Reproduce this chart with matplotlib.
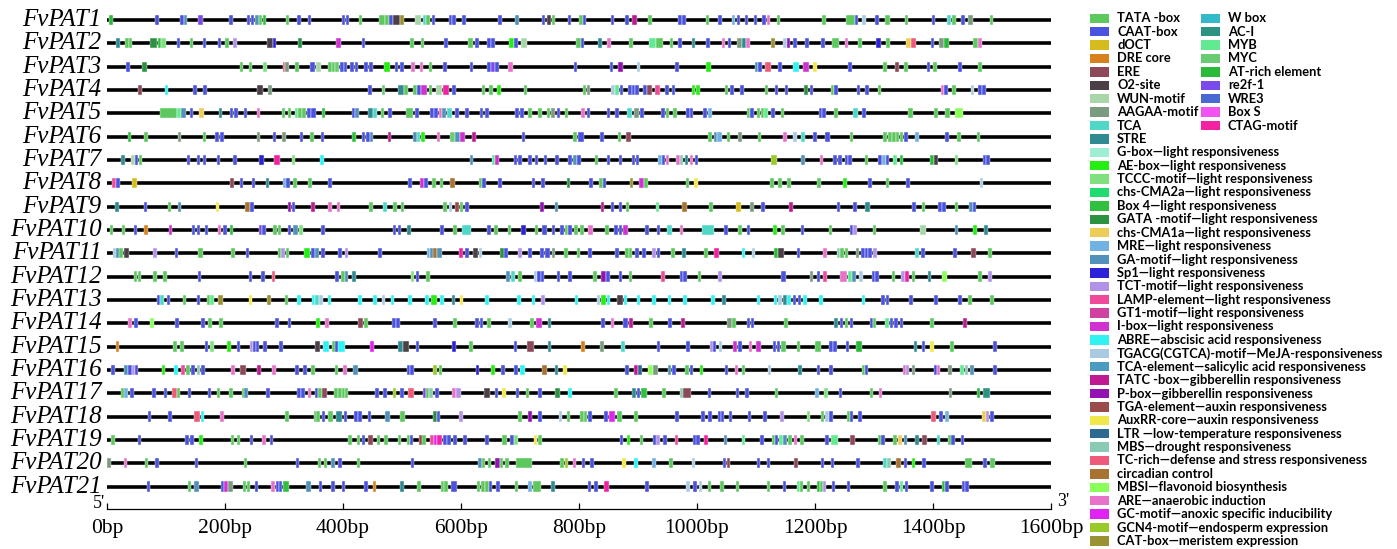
import matplotlib
matplotlib.use('Agg')
import matplotlib.pyplot as plt
from matplotlib.patches import Rectangle

genes = ['FvPAT%d' % i for i in range(1, 22)]
seq_len = 1600
xticks = [0, 200, 400, 600, 800, 1000, 1200, 1400, 1600]
xtick_labels = ['%dbp' % t for t in xticks]

# legend entries (key -> label), two columns
legend_left = ['TATA', 'CAAT', 'dOCT', 'DRE', 'ERE', 'O2', 'WUN', 'AAGAA', 'TCA', 'STRE',
               'Gbox', 'AE', 'TCCC', 'CMA2a', 'Box4', 'GATA', 'CMA1a', 'MRE', 'GA', 'Sp1',
               'TCT', 'LAMP', 'GT1', 'Ibox', 'ABRE', 'TGACG', 'TCAel', 'TATC', 'Pbox', 'TGA',
               'AuxRR', 'LTR', 'MBS', 'TCrich', 'circ', 'MBSI', 'ARE', 'GC', 'GCN4', 'CAT']
legend_right = ['Wbox', 'ACI', 'MYB', 'MYC', 'ATrich', 're2f', 'WRE3', 'BoxS', 'CTAG']

D = '\u2014'
element_labels = {
    'TATA': 'TATA -box', 'CAAT': 'CAAT-box', 'dOCT': 'dOCT', 'DRE': 'DRE core', 'ERE': 'ERE',
    'O2': 'O2-site', 'WUN': 'WUN-motif', 'AAGAA': 'AAGAA-motif', 'TCA': 'TCA', 'STRE': 'STRE',
    'Gbox': 'G-box' + D + 'light responsiveness',
    'AE': 'AE-box' + D + 'light responsiveness',
    'TCCC': 'TCCC-motif' + D + 'light responsiveness',
    'CMA2a': 'chs-CMA2a' + D + 'light responsiveness',
    'Box4': 'Box 4' + D + 'light responsiveness',
    'GATA': 'GATA -motif' + D + 'light responsiveness',
    'CMA1a': 'chs-CMA1a' + D + 'light responsiveness',
    'MRE': 'MRE' + D + 'light responsiveness',
    'GA': 'GA-motif' + D + 'light responsiveness',
    'Sp1': 'Sp1' + D + 'light responsiveness',
    'TCT': 'TCT-motif' + D + 'light responsiveness',
    'LAMP': 'LAMP-element' + D + 'light responsiveness',
    'GT1': 'GT1-motif' + D + 'light responsiveness',
    'Ibox': 'I-box' + D + 'light responsiveness',
    'ABRE': 'ABRE' + D + 'abscisic acid responsiveness',
    'TGACG': 'TGACG(CGTCA)-motif' + D + 'MeJA-responsiveness',
    'TCAel': 'TCA-element' + D + 'salicylic acid responsiveness',
    'TATC': 'TATC -box' + D + 'gibberellin responsiveness',
    'Pbox': 'P-box' + D + 'gibberellin responsiveness',
    'TGA': 'TGA-element' + D + 'auxin responsiveness',
    'AuxRR': 'AuxRR-core' + D + 'auxin responsiveness',
    'LTR': 'LTR ' + D + 'low-temperature responsiveness',
    'MBS': 'MBS' + D + 'drought responsiveness',
    'TCrich': 'TC-rich' + D + 'defense and stress responsiveness',
    'circ': 'circadian control',
    'MBSI': 'MBSI' + D + 'flavonoid biosynthesis',
    'ARE': 'ARE' + D + 'anaerobic induction',
    'GC': 'GC-motif' + D + 'anoxic specific inducibility',
    'GCN4': 'GCN4-motif' + D + 'endosperm expression',
    'CAT': 'CAT-box' + D + 'meristem expression',
    'Wbox': 'W box', 'ACI': 'AC-I', 'MYB': 'MYB', 'MYC': 'MYC', 'ATrich': 'AT-rich element',
    're2f': 're2f-1', 'WRE3': 'WRE3', 'BoxS': 'Box S', 'CTAG': 'CTAG-motif',
}

colors = {
    'TATA': '#5dc85d', 'CAAT': '#4a52e0', 'dOCT': '#d6bb1c', 'DRE': '#d8801e', 'ERE': '#8c4a58',
    'O2': '#4b4047', 'WUN': '#a9d6a9', 'AAGAA': '#7b9b80', 'TCA': '#4fd8c6', 'STRE': '#2f8a92',
    'Gbox': '#9eeed2', 'AE': '#24ee12', 'TCCC': '#80e080', 'CMA2a': '#20dc6e', 'Box4': '#30c040',
    'GATA': '#2b9242', 'CMA1a': '#edcc58', 'MRE': '#72b2e2', 'GA': '#5292ba', 'Sp1': '#2c22d8',
    'TCT': '#b292e8', 'LAMP': '#f04a9a', 'GT1': '#d042a2', 'Ibox': '#d032d2', 'ABRE': '#30f2f0',
    'TGACG': '#aacae2', 'TCAel': '#4a9ac2', 'TATC': '#c01a92', 'Pbox': '#9212b2', 'TGA': '#9a4c4a',
    'AuxRR': '#f0e84a', 'LTR': '#2c6a92', 'MBS': '#8acab2', 'TCrich': '#f05a7a', 'circ': '#a87232',
    'MBSI': '#8aff5a', 'ARE': '#e872ca', 'GC': '#e022f2', 'GCN4': '#9aca2a', 'CAT': '#9a9232',
    'Wbox': '#32bacb', 'ACI': '#2c9282', 'MYB': '#62ea92', 'MYC': '#6acc72', 'ATrich': '#2aba3a',
    're2f': '#7a4aea', 'WRE3': '#4a6ad2', 'BoxS': '#f252f2', 'CTAG': '#f222a2',
}

# element positions (bp, type[, length in bp])
pat1 = [(3,'ATrich',8),(82,'CAAT'),(124,'CAAT'),(130,'GA'),(155,'re2f',8),(207,'CAAT'),(237,'CAAT'),(244,'CAAT'),(251,'GA'),(257,'TATA'),(264,'Box4'),(303,'TATA'),(322,'CAAT'),(340,'CAAT'),(398,'CAAT'),(405,'CAAT'),(427,'TATA'),(461,'TATA',10),(472,'TATA'),(478,'CAAT'),(484,'O2',12),(496,'CAT',8),(522,'WUN',10),(535,'TCA'),(541,'TATA'),(550,'CAAT'),(579,'CAAT'),(585,'CAAT'),(602,'CAAT'),(663,'CAAT'),(692,'GA'),(737,'CAAT'),(745,'O2',8),(754,'TATA'),(781,'CAAT'),(800,'TATA'),(806,'CAAT'),(854,'CAAT'),(878,'CAAT'),(890,'TATC',8),(917,'TATA'),(968,'CAAT'),(975,'CAAT'),(1015,'TATA'),(1036,'CAAT'),(1059,'MRE'),(1067,'CAAT'),(1081,'CAAT'),(1096,'CAAT'),(1111,'CAAT'),(1118,'ARE'),(1135,'TATA'),(1212,'TATA'),(1253,'TATA',14),(1267,'CAAT'),(1280,'TGACG'),(1302,'CAAT'),(1319,'TATA',8),(1352,'TATA'),(1398,'CAAT'),(1423,'TCA',8),(1433,'TATA'),(1448,'CAAT'),(1460,'AAGAA',8),(1496,'TATA')]
pat2 = [(16,'STRE'),(31,'TATA'),(37,'TATA'),(73,'GATA',12),(86,'Box4'),(92,'TCCC',8),(118,'CAAT'),(140,'TATA'),(162,'CAAT'),(188,'CAAT'),(200,'TATA'),(214,'TCT'),(271,'O2',10),(281,'Sp1'),(324,'GATA'),(388,'Ibox',8),(432,'CAAT'),(514,'TATA'),(532,'TATA'),(572,'CAAT'),(612,'TATA',8),(624,'CAAT'),(644,'CAAT'),(651,'CAAT'),(681,'AE',8),(690,'CAAT'),(702,'WUN',10),(795,'TATA',8),(803,'CAAT'),(833,'STRE'),(848,'ARE'),(885,'TATA'),(918,'MYB',12),(931,'TATA',12),(954,'TATA'),(968,'CAAT'),(991,'STRE'),(1016,'CAAT'),(1042,'ARE'),(1052,'CAAT'),(1067,'AAGAA',10),(1077,'STRE'),(1083,'ARE'),(1126,'CAT'),(1146,'TGACG'),(1152,'Pbox'),(1163,'CAAT'),(1183,'CAAT'),(1211,'CAAT'),(1229,'TATA',12),(1250,'ARE'),(1273,'TATA'),(1304,'Sp1',8),(1321,'TATA'),(1354,'CMA1a',8),(1363,'TCrich',8),(1396,'CAAT'),(1410,'AAGAA',8),(1419,'ATrich',8),(1468,'TATA',8),(1477,'ARE')]
pat3 = [(33,'CAAT'),(59,'GATA',8),(225,'TATA'),(240,'TATA'),(265,'TCCC'),(298,'TCrich',4),(302,'AAGAA'),(319,'TATA'),(344,'CAAT',8),(354,'WUN',8),(375,'TATA'),(381,'TATA'),(387,'MYC'),(395,'CAAT'),(401,'CAAT'),(412,'CAAT'),(420,'CAAT'),(436,'CAAT'),(444,'CAAT'),(470,'AE',10),(488,'CAAT'),(497,'CAAT'),(516,'ARE'),(530,'ARE'),(545,'TATA'),(570,'CAAT'),(615,'CAAT'),(644,'CAAT'),(650,'re2f',8),(658,'CAAT'),(680,'ARE',8),(791,'CAAT'),(852,'CAAT'),(866,'Pbox',8),(898,'TGACG'),(963,'CAAT'),(1016,'AE',8),(1098,'GA'),(1104,'CAAT'),(1115,'TCrich',10),(1138,'CAAT'),(1163,'ABRE',10),(1180,'Ibox',10),(1197,'AuxRR'),(1256,'CAAT'),(1316,'TATA'),(1335,'ERE',8),(1351,'TATA'),(1389,'CAAT'),(1400,'TATA'),(1443,'CAAT'),(1477,'TATA')]
pat4 = [(53,'ERE'),(98,'ABRE'),(146,'CAAT'),(163,'CAAT'),(254,'O2',10),(273,'AAGAA'),(443,'CAAT'),(466,'MYC'),(494,'STRE',10),(504,'TATA'),(519,'TATA'),(526,'CAAT'),(533,'Ibox',10),(545,'TATA'),(558,'WUN',10),(570,'CTAG',10),(585,'CAAT'),(635,'TATA'),(648,'TATA'),(661,'AE'),(706,'TATA'),(806,'TATA'),(813,'AAGAA'),(855,'TGACG'),(861,'MYB'),(869,'CAAT'),(883,'CAAT'),(889,'CAAT'),(895,'CAAT'),(909,'CAAT'),(915,'ERE',8),(929,'LAMP',8),(946,'CAAT'),(957,'CAAT'),(991,'AE'),(999,'AE'),(1047,'TATA'),(1056,'CAAT'),(1073,'CAAT'),(1115,'TATA'),(1132,'CAAT'),(1149,'CAAT'),(1182,'GATA'),(1191,'CAAT'),(1227,'TATA'),(1233,'CAAT'),(1271,'CAAT'),(1285,'CAAT'),(1306,'TATA'),(1413,'ARE'),(1419,'CAAT'),(1433,'TATA'),(1464,'TGACG'),(1477,'CAAT'),(1483,'CAAT')]
pat5 = [(90,'TATA',28),(119,'MYB'),(126,'GA',8),(140,'CAAT'),(156,'CMA1a',8),(189,'STRE'),(208,'CAAT'),(216,'CAAT'),(232,'CAAT'),(254,'ARE'),(296,'TATA'),(306,'TATA'),(318,'MYB'),(324,'TATA'),(331,'TATA'),(339,'CAAT'),(346,'CAAT',8),(364,'Box4'),(415,'CAAT'),(421,'GA'),(443,'STRE',8),(451,'TCA'),(464,'TATA'),(477,'CAAT'),(506,'TATA',12),(522,'CAAT'),(548,'CAAT'),(555,'CAAT'),(562,'ARE'),(567,'GA',8),(576,'TCA',8),(590,'CAAT'),(607,'CAAT'),(632,'CAAT'),(641,'CAAT'),(692,'CAAT'),(700,'CAAT'),(714,'TATA'),(731,'TATA'),(745,'TATA'),(752,'AAGAA',8),(762,'CAAT'),(776,'TATA'),(804,'ARE'),(813,'CAAT'),(847,'CAAT'),(861,'CAAT'),(882,'TCA',8),(893,'AAGAA',8),(904,'CAAT'),(939,'CAAT'),(947,'TATA'),(960,'TATA'),(982,'CAAT'),(988,'CAAT'),(1011,'CAAT'),(1019,'MRE'),(1084,'TATA'),(1090,'CAAT'),(1101,'TATA'),(1108,'TATA'),(1114,'MYB'),(1126,'CAAT'),(1142,'TATA'),(1206,'CAAT'),(1212,'CAAT'),(1233,'TATA'),(1265,'TCA',8),(1280,'CAAT'),(1358,'TATA',8),(1402,'TATA'),(1421,'TATA',8),(1438,'MBSI',12)]
pat6 = [(35,'Box4'),(63,'TATA'),(120,'AAGAA'),(162,'TATA'),(183,'CAAT'),(192,'CAAT'),(254,'AAGAA'),(281,'CAAT'),(297,'AAGAA'),(327,'CAAT'),(344,'TATA'),(362,'CAAT'),(416,'Box4'),(432,'CAAT'),(439,'CAAT'),(445,'GA'),(476,'TATC'),(519,'GA'),(525,'TCA'),(533,'AE'),(559,'ARE'),(582,'MYC',8),(590,'GA',8),(599,'Ibox',8),(619,'TATC'),(703,'CAAT'),(790,'TATA'),(798,'CAAT',10),(836,'CAAT'),(866,'TATA'),(880,'ERE',8),(1019,'TATA'),(1028,'GA'),(1034,'MRE',8),(1050,'TATA'),(1070,'AAGAA'),(1103,'TATA'),(1146,'ARE'),(1163,'TGACG'),(1177,'TCA'),(1197,'CAAT'),(1217,'CAAT',8),(1259,'TATA'),(1316,'TATA'),(1324,'TATA'),(1331,'TATA'),(1337,'TATA'),(1344,'TATA'),(1351,'CAAT'),(1370,'MRE'),(1421,'CAAT'),(1440,'TATA',8),(1474,'TATA')]
pat7 = [(24,'STRE'),(41,'WUN'),(47,'CAAT'),(54,'TATA'),(135,'CAAT'),(152,'CAAT'),(162,'CAAT'),(186,'CAAT'),(214,'CAAT'),(258,'Sp1',8),(283,'CTAG',10),(313,'TCCC'),(361,'ABRE'),(615,'GA'),(652,'MYB'),(658,'Ibox'),(689,'CAAT'),(697,'CAAT'),(714,'CAAT'),(725,'CAAT'),(740,'CAAT'),(760,'CAAT'),(782,'CAAT'),(790,'GA'),(797,'CAAT'),(827,'TATA'),(847,'CAAT'),(867,'CAAT'),(889,'CAAT'),(896,'CAAT'),(934,'MRE'),(940,'CAAT'),(947,'ARE'),(965,'ARE'),(971,'MBS'),(979,'STRE'),(988,'ARE'),(996,'CAAT'),(1125,'GCN4',10),(1177,'GA'),(1208,'ARE'),(1231,'CAAT'),(1239,'CAAT'),(1250,'CAAT'),(1256,'CAAT'),(1284,'TATA'),(1307,'CAAT'),(1314,'MRE'),(1320,'CAAT'),(1333,'MYB'),(1344,'Box4'),(1395,'ATrich'),(1401,'O2',8),(1437,'TCCC'),(1484,'CAAT'),(1490,'CAAT')]
pat8 = [(8,'LAMP',8),(16,'CAAT'),(42,'dOCT',8),(209,'ERE'),(225,'CAAT'),(245,'CAAT'),(269,'STRE'),(299,'MRE'),(304,'CAAT'),(316,'TATA'),(341,'TATA'),(375,'CAAT'),(511,'CAAT'),(530,'Ibox',8),(538,'CAAT'),(551,'TATA'),(564,'TATA'),(582,'circ',8),(630,'TATA'),(636,'CAAT'),(663,'CAAT'),(720,'CAAT'),(736,'CAAT'),(779,'GATA'),(817,'CAAT'),(834,'TATA'),(840,'CAAT'),(886,'CAT'),(902,'Ibox',8),(911,'TATA'),(981,'TATA'),(995,'AuxRR'),(1124,'TATA'),(1138,'TATA'),(1153,'TATA'),(1204,'TATA'),(1248,'AE'),(1290,'CAAT'),(1320,'TATA'),(1355,'CAAT'),(1479,'TGACG')]
pat9 = [(14,'STRE'),(62,'CAAT'),(103,'TATA'),(120,'GA'),(184,'AuxRR'),(234,'circ',8),(243,'CAAT'),(306,'Pbox'),(313,'CAAT'),(346,'TATC'),(375,'ARE'),(389,'ARE'),(444,'TATA'),(467,'TCA',8),(485,'TATA'),(498,'TATA'),(570,'TATA'),(579,'TGACG'),(590,'TGA'),(598,'TATA'),(607,'CAAT'),(734,'Pbox'),(759,'GA'),(837,'TATC'),(854,'CAAT'),(867,'CAAT'),(879,'TATA'),(930,'MYB'),(975,'circ',8),(1021,'TATA'),(1066,'dOCT',8),(1090,'AAGAA'),(1109,'CAAT'),(1156,'TATC'),(1237,'CAAT'),(1265,'CAAT'),(1285,'STRE',8),(1365,'CAAT'),(1381,'TATA'),(1409,'CAAT'),(1416,'CAAT'),(1437,'TATA'),(1461,'GA'),(1467,'CAAT')]
pat10 = [(5,'TATA'),(25,'TATA'),(45,'CAAT'),(63,'DRE'),(105,'Ibox'),(144,'CAAT'),(152,'CAAT'),(166,'CAAT'),(188,'ARE'),(197,'CAAT'),(208,'Box4'),(257,'re2f'),(263,'CAAT'),(282,'TATA'),(289,'TATA'),(306,'CAAT'),(316,'GA',8),(326,'TCCC'),(363,'CAAT'),(484,'CAAT'),(493,'CAAT'),(509,'STRE'),(565,'CAAT'),(587,'TATA'),(601,'TCA',16),(644,'CAAT'),(656,'TATA'),(679,'TATA'),(702,'Sp1',8),(725,'TATA'),(738,'CAAT',8),(754,'CAAT'),(768,'CAAT'),(776,'TATA'),(782,'CAAT'),(792,'TATA'),(802,'TATA'),(816,'ARE',8),(844,'TATA'),(860,'CAAT'),(867,'CAAT'),(875,'Ibox',8),(912,'CAAT'),(932,'CAAT'),(949,'TCA',8),(971,'ARE'),(1008,'TCA',20),(1046,'CAAT'),(1070,'TATA'),(1084,'CAAT'),(1129,'AE'),(1143,'TATA'),(1176,'CAAT'),(1223,'TATA'),(1259,'CAAT'),(1265,'TCT'),(1298,'TATA'),(1378,'WUN',10),(1437,'GA'),(1467,'AE',8),(1487,'STRE')]
pat11 = [(11,'TGACG'),(16,'GA'),(21,'TATA'),(28,'O2',10),(78,'TCT'),(115,'CAAT'),(155,'TATA',8),(211,'TATA'),(235,'CAAT'),(289,'TATA'),(295,'TCT'),(303,'TATA'),(334,'AE',10),(346,'CAAT'),(353,'GA'),(363,'CAAT'),(392,'CAAT'),(403,'TCT'),(460,'CAAT'),(542,'MRE'),(548,'GA'),(553,'circ'),(559,'GA',8),(596,'CTAG',8),(607,'CAAT'),(621,'O2',8),(630,'TGACG'),(666,'GATA',8),(673,'CAAT'),(697,'TCT'),(714,'CAAT'),(734,'CAAT'),(743,'CAAT',8),(754,'AAGAA'),(774,'TATA',8),(796,'TATA'),(816,'CAAT'),(861,'CAAT'),(878,'TATA'),(884,'TATA'),(895,'CAAT'),(907,'CAAT'),(924,'TCT'),(932,'CAAT'),(956,'TATA'),(975,'STRE'),(1012,'TATA'),(1029,'CTAG',8),(1076,'ABRE'),(1093,'TGACG'),(1131,'ATrich'),(1138,'O2',10),(1169,'CAAT'),(1214,'ARE'),(1237,'MBS'),(1243,'TATA'),(1250,'TATA'),(1269,'AAGAA'),(1278,'CAAT'),(1284,'CAAT'),(1290,'CAAT'),(1299,'TCT'),(1369,'TCA',8),(1380,'CAAT'),(1434,'CAAT'),(1465,'ERE',8),(1494,'TATA')]
pat12 = [(45,'TATA'),(52,'TATA'),(78,'TATA'),(95,'TATA'),(154,'CAAT'),(240,'CAAT'),(261,'CAAT'),(279,'TCrich'),(387,'CAAT'),(397,'TATA'),(403,'GA'),(416,'STRE'),(515,'TCCC'),(523,'CAAT'),(541,'TATA'),(677,'GA'),(684,'TCA',8),(697,'TATA'),(723,'TGACG'),(729,'CAAT'),(735,'CAAT'),(762,'CAAT'),(782,'CAAT'),(824,'TATA'),(838,'Pbox',8),(846,'CAAT'),(867,'CAAT'),(884,'TATA'),(939,'LAMP'),(971,'CAAT'),(977,'CAAT'),(1001,'TATA'),(1036,'TCT'),(1143,'CAAT',8),(1191,'AAGAA'),(1203,'CAAT'),(1214,'LAMP'),(1243,'ARE',12),(1256,'MYB'),(1263,'GA'),(1275,'TGACG'),(1296,'CAAT'),(1302,'CAAT'),(1330,'TATA'),(1346,'TCT'),(1352,'CTAG',8),(1364,'TATA'),(1391,'STRE'),(1415,'MBSI',8),(1477,'TATA'),(1494,'TCT')]
pat13 = [(84,'CAAT'),(90,'TCA'),(101,'CAAT'),(128,'TATA'),(152,'CAAT'),(169,'TATA'),(175,'MYB'),(188,'CAT',8),(240,'AuxRR'),(272,'CAT'),(301,'TATA'),(322,'ABRE'),(347,'ABRE'),(353,'TCA'),(360,'TGACG'),(374,'ABRE'),(426,'ABRE'),(451,'ABRE'),(466,'TGACG'),(481,'ABRE'),(511,'ABRE'),(539,'ABRE'),(549,'AE',10),(565,'ABRE'),(584,'STRE'),(598,'AuxRR'),(641,'ABRE'),(695,'ABRE'),(720,'ABRE'),(736,'TCT'),(793,'ABRE'),(830,'TGACG'),(837,'AE',8),(847,'ABRE'),(864,'O2',10),(876,'ABRE'),(898,'ABRE'),(924,'ABRE'),(950,'ABRE'),(977,'ABRE'),(1024,'ABRE'),(1043,'STRE'),(1101,'ABRE'),(1130,'ABRE'),(1138,'TGACG'),(1146,'STRE'),(1153,'ABRE'),(1162,'CAAT'),(1171,'CAAT'),(1180,'ABRE'),(1207,'ABRE'),(1279,'ABRE'),(1312,'CAAT'),(1320,'CAAT'),(1360,'CAAT'),(1402,'CAAT'),(1443,'CAAT'),(1460,'TATA'),(1497,'TATA')]
pat14 = [(36,'ARE'),(46,'CAAT'),(73,'MBSI'),(116,'CAAT'),(160,'CAAT'),(172,'TATA'),(189,'TATA',8),(285,'CAAT'),(306,'CAAT'),(355,'AE'),(370,'ARE'),(426,'ERE',8),(436,'TATA'),(483,'CAAT'),(490,'CAAT'),(553,'CAAT'),(587,'TATA'),(624,'CAAT'),(632,'CAAT'),(644,'TATA'),(680,'TGACG'),(717,'TATA'),(727,'Ibox',10),(747,'STRE'),(838,'CAAT'),(854,'ARE'),(875,'CAAT',8),(885,'TATC'),(919,'TATA'),(951,'CAAT'),(973,'TATC'),(1050,'AAGAA',10),(1060,'TATA'),(1084,'CAAT'),(1091,'CAAT'),(1148,'TATA'),(1233,'STRE'),(1242,'CAAT'),(1250,'TATA'),(1259,'CAAT'),(1293,'CAAT'),(1298,'TATA'),(1319,'MYB'),(1327,'CAAT'),(1334,'CAAT'),(1344,'CAAT'),(1395,'TATA'),(1451,'TATC')]
pat15 = [(15,'DRE'),(112,'TATA'),(123,'TATA',8),(166,'CAAT'),(175,'TCCC'),(204,'AE'),(220,'CAAT'),(242,'TCT'),(247,'CAAT'),(252,'CAAT'),(265,'CAAT'),(292,'CAAT'),(353,'O2',8),(366,'ABRE',10),(382,'TATA'),(387,'CAAT'),(391,'ABRE',12),(446,'GC'),(494,'STRE',8),(502,'O2',10),(523,'CAAT'),(585,'Sp1'),(614,'TATA'),(689,'CAAT'),(712,'ERE',12),(747,'STRE'),(804,'DRE'),(836,'AAGAA'),(872,'TCA'),(932,'CAAT'),(982,'CAAT'),(1022,'TCT'),(1027,'CAAT'),(1037,'TGACG'),(1061,'Ibox'),(1070,'CAAT'),(1088,'ARE'),(1100,'Ibox',8),(1128,'CAAT'),(1135,'CAAT'),(1143,'TATA',8),(1169,'TATA'),(1200,'TATA',10),(1224,'CAAT'),(1231,'CAAT'),(1252,'CAAT'),(1269,'ATrich',10),(1367,'STRE'),(1381,'CAAT'),(1395,'AuxRR'),(1429,'TATA'),(1502,'CAAT')]
pat16 = [(7,'CAAT'),(28,'GA',8),(36,'CAAT'),(42,'TCT'),(47,'CAAT'),(93,'AE'),(114,'ABRE'),(125,'LAMP',8),(134,'TATA'),(143,'CAAT'),(152,'MBS'),(160,'CAAT'),(211,'ARE'),(225,'ERE',10),(255,'TATC'),(279,'ARE',8),(319,'CAAT'),(333,'CAAT'),(346,'TATA'),(386,'TATA'),(400,'ARE'),(417,'GA',8),(508,'CAAT'),(514,'CAAT'),(553,'GCN4'),(562,'TATA'),(625,'Sp1'),(651,'AE'),(668,'CAAT'),(690,'CAAT'),(700,'ABRE',8),(737,'circ',8),(759,'STRE'),(773,'AuxRR'),(878,'CAAT'),(894,'TATC'),(900,'LTR'),(917,'MBSI',8),(926,'AAGAA',8),(950,'GA'),(958,'CAAT'),(980,'TATA'),(988,'CAAT'),(1005,'AE'),(1047,'CAAT'),(1064,'ARE'),(1076,'TATA'),(1120,'TGACG'),(1172,'STRE'),(1203,'CAAT'),(1224,'CAAT'),(1279,'TATA'),(1284,'CAAT'),(1349,'ARE'),(1354,'TCT'),(1364,'AAGAA'),(1401,'CAAT'),(1406,'ARE'),(1426,'AAGAA'),(1446,'MYB'),(1454,'MBS'),(1463,'GA'),(1502,'CAAT')]
pat17 = [(24,'TATA'),(29,'MRE'),(39,'CAAT'),(77,'CAAT'),(96,'CAAT'),(110,'TCrich',8),(118,'TATA'),(137,'CAAT'),(171,'CAAT'),(186,'TATA'),(207,'TATA'),(228,'TATA'),(233,'GA'),(270,'CAAT'),(322,'CAAT'),(329,'CAAT'),(340,'ARE'),(352,'CAAT'),(358,'TATA'),(365,'ERE',8),(385,'TATA'),(392,'TATA'),(398,'TATA'),(403,'TATA'),(455,'CAAT'),(468,'CAAT'),(484,'GCN4'),(497,'CAAT'),(510,'TCrich',10),(535,'re2f'),(540,'TATA'),(546,'MBS'),(556,'CAAT'),(585,'ARE'),(592,'TCT',8),(639,'O2',10),(657,'CAAT'),(670,'AuxRR'),(693,'CAAT'),(710,'TATA'),(731,'CAAT'),(760,'GATA',8),(782,'ABRE'),(860,'TATA'),(890,'STRE'),(898,'CAAT'),(905,'Box4',10),(941,'TATA'),(972,'MBS'),(977,'ERE',12),(1018,'CAAT'),(1066,'CAAT'),(1082,'CAAT'),(1132,'TATA'),(1200,'MRE'),(1216,'TCCC'),(1240,'CAAT'),(1293,'TATA'),(1308,'ARE'),(1427,'AAGAA'),(1474,'ATrich'),(1484,'ACI',12)]
pat18 = [(69,'CAAT'),(104,'CAAT'),(148,'TCrich',10),(159,'ABRE'),(192,'ARE'),(302,'TATA'),(350,'TATA'),(355,'TATA'),(364,'CAAT'),(375,'TATA',8),(388,'STRE',10),(401,'CAAT'),(419,'CAAT'),(426,'CAAT'),(442,'CAAT'),(471,'GA',8),(497,'TATA',8),(553,'GATA'),(559,'CAAT'),(597,'TCT'),(697,'TATA'),(714,'Pbox'),(731,'CAAT'),(766,'TGACG'),(779,'TATA'),(802,'TATA'),(808,'TATA'),(816,'CAAT'),(843,'CAAT'),(851,'GC',10),(865,'TATA',8),(894,'TATA'),(963,'CAAT'),(1007,'CAAT'),(1019,'CAAT'),(1035,'CAAT'),(1040,'CAAT'),(1054,'CAAT'),(1086,'CAAT'),(1112,'CAAT'),(1141,'TCT'),(1186,'TCCC'),(1210,'TATA'),(1217,'TGACG'),(1224,'CAAT'),(1254,'TATA'),(1259,'CAAT'),(1273,'CAAT'),(1397,'TCrich',8),(1411,'CAAT'),(1421,'MRE'),(1483,'CMA1a'),(1489,'TCT'),(1497,'CAAT')]
pat19 = [(7,'TATA'),(52,'CAAT'),(133,'CAAT'),(141,'CAAT'),(156,'AE'),(210,'TATA'),(220,'TATA'),(242,'CAAT'),(263,'ARE'),(276,'CAAT'),(409,'TATA'),(423,'TATA'),(432,'CAAT'),(443,'ERE',8),(457,'TATA'),(470,'TATA'),(493,'TATA'),(508,'TATA'),(513,'CAAT'),(529,'TGA'),(534,'TATA'),(548,'LAMP'),(554,'GC'),(560,'CTAG',8),(570,'CAAT'),(577,'CAAT'),(587,'CAAT'),(604,'CAAT'),(641,'CAAT'),(670,'TATA',8),(683,'CAAT'),(690,'TCCC'),(723,'AuxRR'),(730,'TATA',8),(869,'CAAT'),(881,'AE'),(903,'TATA'),(926,'CAAT'),(931,'TCT'),(943,'CAAT'),(962,'LAMP'),(994,'CAAT'),(999,'CAAT'),(1012,'CTAG'),(1045,'GA'),(1076,'MYB'),(1107,'CAAT'),(1127,'TATA'),(1132,'CAAT'),(1139,'MYB'),(1146,'GA'),(1155,'TATA'),(1164,'ARE'),(1175,'TATA'),(1217,'CAAT'),(1227,'MYB',12),(1259,'ERE',8),(1307,'TATA'),(1312,'CAAT'),(1333,'TATA'),(1340,'CMA1a',8),(1350,'GA'),(1370,'STRE'),(1381,'ERE',8),(1406,'TCA'),(1426,'TATA'),(1431,'CAAT'),(1447,'CAAT')]
pat20 = [(0,'AAGAA'),(28,'ARE'),(64,'TATA'),(82,'CAAT'),(149,'CAAT'),(232,'TATA'),(320,'CAAT'),(357,'TATA'),(367,'TATA'),(380,'GA'),(392,'CAAT'),(423,'TATA'),(515,'CAAT'),(629,'GA'),(635,'TATA'),(645,'TATA'),(658,'Pbox',8),(666,'TATA'),(675,'TATA'),(693,'TATA',27),(768,'TATA'),(776,'GCN4'),(789,'ARE'),(805,'CAAT'),(819,'CAAT'),(873,'AuxRR'),(894,'ABRE'),(924,'MRE'),(953,'TATA'),(991,'TGACG'),(1044,'CAAT'),(1050,'ERE'),(1101,'CAAT'),(1118,'CAAT'),(1165,'ERE'),(1210,'CAAT'),(1227,'CAAT'),(1270,'CAAT'),(1316,'TCA'),(1322,'MBS'),(1337,'circ',8),(1350,'CAAT'),(1364,'AE'),(1382,'CAAT'),(1454,'TATA',12),(1485,'CAAT'),(1497,'TATA',8)]
pat21 = [(67,'CAAT'),(137,'TATA'),(148,'GA',8),(193,'CAAT'),(199,'Ibox'),(205,'AAGAA',8),(230,'TATA'),(237,'TATA'),(250,'CAAT'),(278,'ARE'),(286,'CAAT'),(291,'CAAT'),(298,'Box4',10),(337,'GA',8),(359,'CAAT'),(380,'CAAT'),(398,'CAAT'),(436,'CAAT'),(450,'DRE'),(497,'STRE'),(525,'TATA',8),(566,'TATA'),(572,'TATA'),(583,'CAAT',10),(627,'TATA'),(634,'TATA'),(641,'TATA'),(647,'CAAT'),(660,'CAAT'),(691,'TATA'),(714,'MRE'),(722,'TATA',14),(753,'STRE'),(815,'CAAT'),(826,'CAAT'),(843,'CTAG',8),(912,'CAAT'),(982,'TGACG'),(994,'CAAT'),(1003,'TGACG'),(1018,'TATA'),(1039,'TATA'),(1066,'TATA'),(1118,'TATA'),(1145,'CAAT'),(1169,'MYB'),(1174,'TATA'),(1186,'TATA'),(1203,'Box4'),(1208,'TATA'),(1213,'TCT'),(1228,'CAAT'),(1254,'CAAT'),(1316,'TATA'),(1336,'CAAT'),(1344,'MYB'),(1352,'CAAT'),(1395,'CAAT'),(1415,'Box4'),(1421,'CAAT'),(1449,'CAAT'),(1455,'CAAT')]

rows = [pat1, pat2, pat3, pat4, pat5, pat6, pat7, pat8, pat9, pat10, pat11,
        pat12, pat13, pat14, pat15, pat16, pat17, pat18, pat19, pat20, pat21]

W, H = 1397, 549
fig = plt.figure(figsize=(W / 100, H / 100), dpi=100)
ax = fig.add_axes([107 / W, 40 / H, 944 / W, 503 / H])
ax.set_xlim(0, seq_len)
ax.set_ylim(20.96, -0.6)

box_h = 0.44
for i, elems in enumerate(rows):
    ax.plot([0, seq_len], [i, i], color='black', lw=2.6, solid_capstyle='butt', zorder=1)
    for e in elems:
        pos, key = e[0], e[1]
        w = e[2] if len(e) > 2 else 6
        ax.add_patch(Rectangle((pos, i - box_h / 2), w, box_h, facecolor=colors[key],
                               edgecolor='white', lw=0.3, zorder=2))
    ax.text(-9, i, genes[i], ha='right', va='center', fontsize=18,
            family='Liberation Serif', style='italic')

for s in ['top', 'left', 'right']:
    ax.spines[s].set_visible(False)
ax.spines['bottom'].set_linewidth(0.9)
ax.set_yticks([])
ax.set_xticks(xticks)
ax.set_xticklabels(xtick_labels, family='Liberation Serif', fontsize=15.5)
ax.tick_params(axis='x', direction='in', length=4.5, width=0.9, pad=7)
ax.text(-3, 20.72, "5'", ha='right', va='center', fontsize=13, family='Liberation Serif')
ax.text(1610, 20.62, "3'", ha='left', va='center', fontsize=13, family='Liberation Serif')

# legend drawn by hand in pixel space
lax = fig.add_axes([0, 0, 1, 1])
lax.set_xlim(0, W)
lax.set_ylim(H, 0)
lax.axis('off')
for col, keys in enumerate([legend_left, legend_right]):
    px = [1090, 1201][col]
    for j, key in enumerate(keys):
        yc = 18.3 + 13.4 * j
        lax.add_patch(Rectangle((px, yc - 4.7), 19, 9.4, facecolor=colors[key], edgecolor='none'))
        lax.text(px + 27, yc, element_labels[key], va='center', ha='left', fontsize=9.3,
                 family='Lato', weight='bold')

fig.savefig('out.png', dpi=100)
